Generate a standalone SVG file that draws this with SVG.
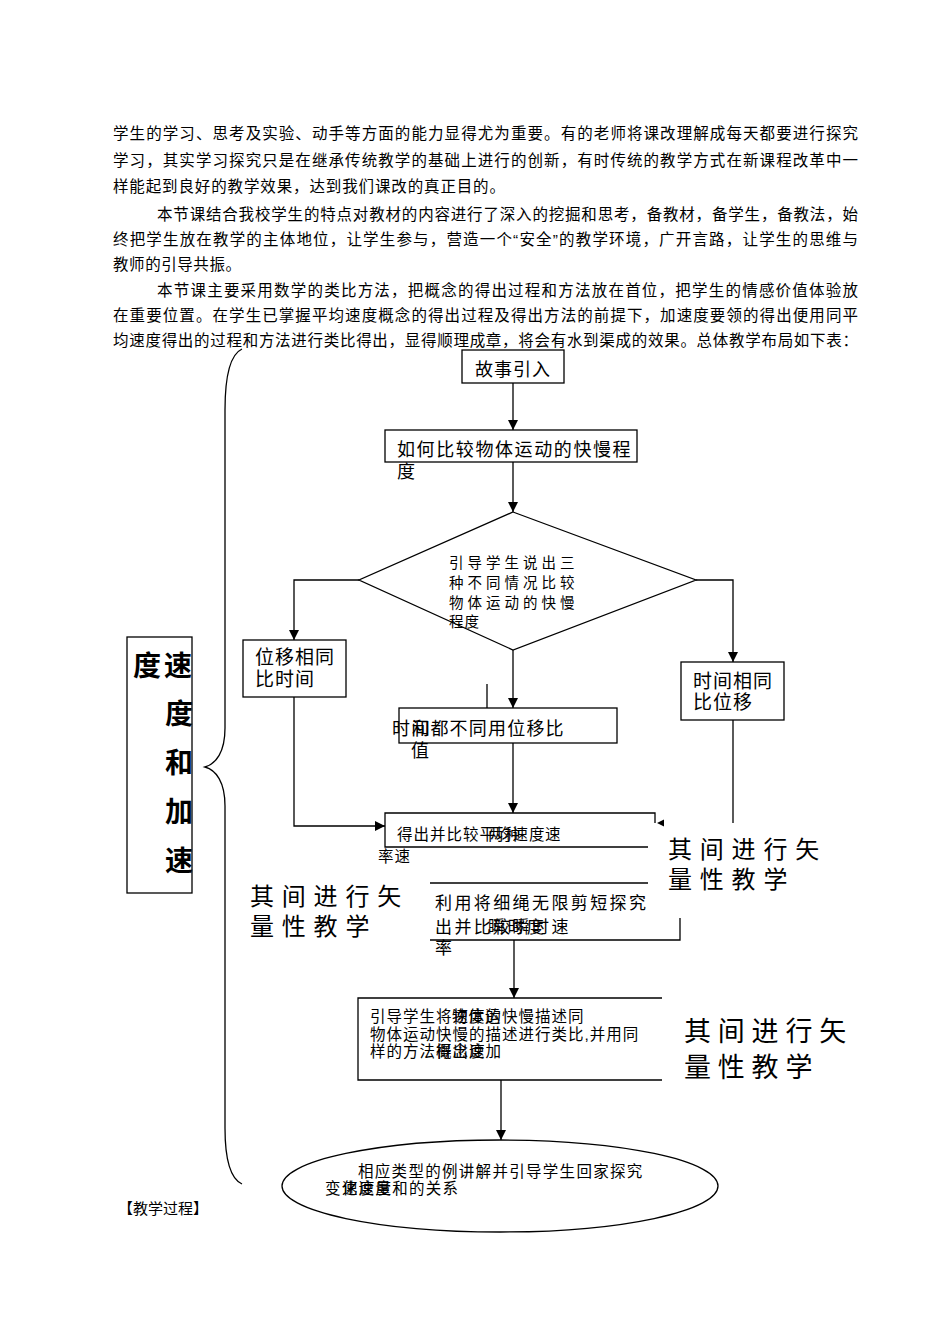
<svg xmlns="http://www.w3.org/2000/svg" width="950" height="1344" viewBox="0 0 950 1344">
<style>
text{font-family:"Liberation Sans","Noto Sans CJK SC",sans-serif;fill:#000}
.p{font-size:15.5px}
.n{fill:#fff;stroke:#000;stroke-width:1.3}
.ln{fill:none;stroke:#000;stroke-width:1.3}
.c{fill:none;stroke:#000;stroke-width:1.3}
.big{font-size:24px;letter-spacing:7.8px}
.big2{font-size:27px;letter-spacing:6.8px}
</style>
<defs>
<marker id="ah" markerWidth="10" markerHeight="12" refX="10" refY="5" orient="auto" markerUnits="userSpaceOnUse" viewBox="0 0 10 10">
<path d="M0,0 L10,5 L0,10 Z" fill="#000"/>
</marker>
</defs>
<rect width="950" height="1344" fill="#fff"/>

<g id="paragraph" class="p">
<text x="113" y="139" textLength="745" lengthAdjust="spacing">学生的学习、思考及实验、动手等方面的能力显得尤为重要。有的老师将课改理解成每天都要进行探究</text>
<text x="113" y="166" textLength="745" lengthAdjust="spacing">学习，其实学习探究只是在继承传统教学的基础上进行的创新，有时传统的教学方式在新课程改革中一</text>
<text x="113" y="192" textLength="392" lengthAdjust="spacing">样能起到良好的教学效果，达到我们课改的真正目的。</text>
<text x="157" y="220" textLength="701" lengthAdjust="spacing">本节课结合我校学生的特点对教材的内容进行了深入的挖掘和思考，备教材，备学生，备教法，始</text>
<text x="113" y="245" textLength="745" lengthAdjust="spacing">终把学生放在教学的主体地位，让学生参与，营造一个“安全”的教学环境，广开言路，让学生的思维与</text>
<text x="113" y="270" textLength="128" lengthAdjust="spacing">教师的引导共振。</text>
<text x="157" y="296" textLength="701" lengthAdjust="spacing">本节课主要采用数学的类比方法，把概念的得出过程和方法放在首位，把学生的情感价值体验放</text>
<text x="113" y="321" textLength="745" lengthAdjust="spacing">在重要位置。在学生已掌握平均速度概念的得出过程及得出方法的前提下，加速度要领的得出便用同平</text>
<text x="113" y="346" textLength="745" lengthAdjust="spacing">均速度得出的过程和方法进行类比得出，显得顺理成章，将会有水到渠成的效果。总体教学布局如下表：</text>
</g>

<g id="brace">
<path class="ln" d="M242,349 C229,355 225,378 225,410 L225,728 C225,752 216,764 205,767 C216,770 225,782 225,806 L225,1128 C225,1160 231,1179 242,1184"/>
</g>

<g id="title-box">
<rect class="n" x="127" y="637" width="65" height="256"/>
<g style="font-size:28px;font-weight:bold">
<text x="133" y="676">度</text>
<text x="164" y="676">速</text>
<text x="165" y="724">度</text>
<text x="165" y="773">和</text>
<text x="165" y="822">加</text>
<text x="165" y="871">速</text>
</g>
</g>

<g id="connectors">
<path class="c" d="M513,383 V430" marker-end="url(#ah)"/>
<path class="c" d="M513,462 V512" marker-end="url(#ah)"/>
<path class="c" d="M359,580 H294 V640" marker-end="url(#ah)"/>
<path class="c" d="M696,580 H733 V662" marker-end="url(#ah)"/>
<path class="c" d="M513,650 V708" marker-end="url(#ah)"/>
<path class="c" d="M487,684 V708"/>
<path class="c" d="M294,697 V826 H385" marker-end="url(#ah)"/>
<path class="c" d="M513,743 V813" marker-end="url(#ah)"/>
<path class="c" d="M733,720 V823"/>
<polygon points="657,823 664,819.5 664,826.5" fill="#000"/>
<path class="c" d="M514,940 V998" marker-end="url(#ah)"/>
<path class="c" d="M501,1080 V1140" marker-end="url(#ah)"/>
</g>

<g id="node-story">
<rect class="n" x="462" y="350" width="102" height="33"/>
<text x="475" y="376" style="font-size:18px;letter-spacing:1px">故事引入</text>
</g>

<g id="node-compare">
<rect class="n" x="385" y="430" width="252" height="32"/>
<text x="397" y="456" style="font-size:18px;letter-spacing:1.6px">如何比较物体运动的快慢程</text>
<text x="397" y="478" style="font-size:18px">度</text>
</g>

<g id="node-decision">
<polygon class="n" points="513,512 696,580 513,650 359,580"/>
<g style="font-size:14.5px;letter-spacing:4px">
<text x="449" y="568">引导学生说出三</text>
<text x="449" y="588">种不同情况比较</text>
<text x="449" y="608">物体运动的快慢</text>
<text x="449" y="627" style="letter-spacing:1px">程度</text>
</g>
</g>

<g id="node-left">
<rect class="n" x="243" y="640" width="103" height="57"/>
<text x="255" y="664" style="font-size:19px;letter-spacing:1px">位移相同</text>
<text x="255" y="686" style="font-size:19px;letter-spacing:1px">比时间</text>
</g>

<g id="node-right">
<rect class="n" x="681" y="662" width="103" height="58"/>
<text x="693" y="688" style="font-size:19px;letter-spacing:1px">时间相同</text>
<text x="693" y="709" style="font-size:19px;letter-spacing:1px">比位移</text>
</g>

<g id="node-middle">
<rect class="n" x="399" y="708" width="218" height="35"/>
<text x="392" y="735" style="font-size:18px;letter-spacing:1.2px">时间都不同用位移比</text>
<text x="412" y="735" style="font-size:18px">和</text>
<text x="411" y="757" style="font-size:18px">值</text>
</g>

<g id="node-average">
<path class="ln" d="M655,823 V813 H385 V847 H648"/>
<g style="font-size:15.5px;letter-spacing:1px">
<text x="397" y="840">得出并比较平均速度</text>
<text x="488" y="840">两种</text>
<text x="545" y="840">速</text>
<text x="378" y="862">率速</text>
</g>
</g>

<g id="note-right-1" class="big">
<text x="668" y="858">其间进行矢</text>
<text x="668" y="888">量性教学</text>
</g>

<g id="note-left" class="big">
<text x="250" y="905">其间进行矢</text>
<text x="250" y="935">量性教学</text>
</g>

<g id="node-instant">
<path class="ln" d="M430,883 H648"/>
<path class="ln" d="M680,918 V940 H430"/>
<g style="font-size:17px;letter-spacing:2.4px">
<text x="435" y="909">利用将细绳无限剪短探究</text>
<text x="435" y="933">出并比较瞬时速</text>
<text x="488" y="933">瞬时度</text>
<text x="435" y="954">率</text>
</g>
</g>

<g id="node-acceleration">
<path class="ln" d="M662,998 H358 V1080 H662"/>
<g style="font-size:15.5px;letter-spacing:1px">
<text x="370" y="1022">引导学生将速度的快慢描述同</text>
<text x="452" y="1022">物体运</text>
<text x="370" y="1040">物体运动快慢的描述进行类比,并用同</text>
<text x="370" y="1057">样的方法概念速加</text>
<text x="436" y="1057">得出度</text>
</g>
</g>

<g id="note-right-2" class="big2">
<text x="684" y="1041">其间进行矢</text>
<text x="684" y="1077">量性教学</text>
</g>

<g id="node-end">
<ellipse class="n" cx="500" cy="1186" rx="218" ry="46"/>
<g style="font-size:15.5px;letter-spacing:1.3px">
<text x="358" y="1177">相应类型的例讲解并引导学生回家探究</text>
<text x="325" y="1194">变化速度和的关系</text>
<text x="342" y="1194">速度量</text>
</g>
</g>

<g id="footer">
<text x="118" y="1214" style="font-size:15px">【教学过程】</text>
</g>
</svg>
